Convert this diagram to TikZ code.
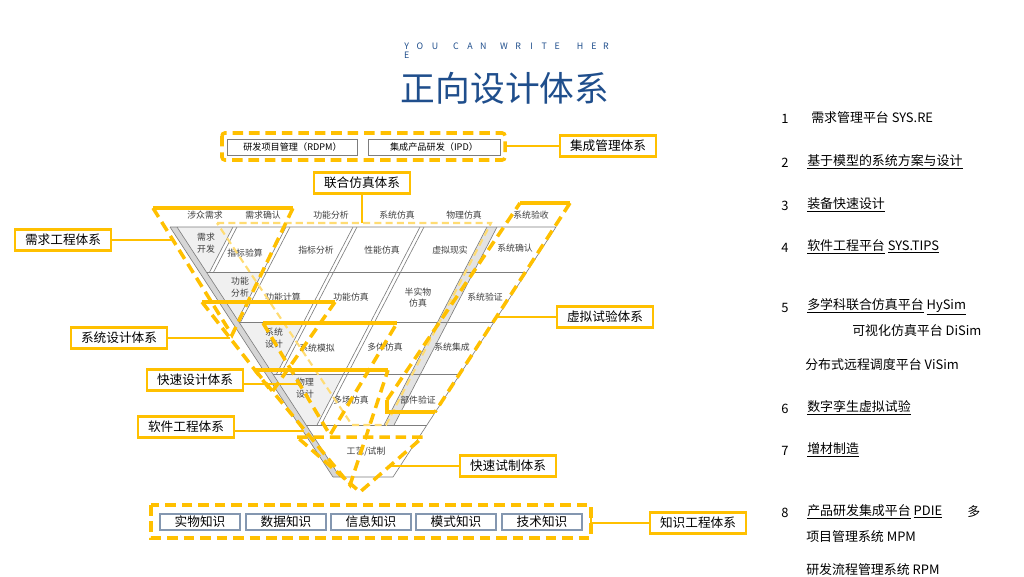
\documentclass[tikz,border=0pt]{standalone}
\usepackage{fontspec}
\setmainfont{Noto Sans CJK SC}
\definecolor{ylw}{RGB}{255,192,0}
\definecolor{ttl}{RGB}{31,78,140}
\definecolor{kbx}{RGB}{132,151,176}
\definecolor{vln}{RGB}{125,125,125}
\definecolor{vtx}{RGB}{64,64,64}

\begin{document}
\begin{tikzpicture}[x=0.25mm, y=-0.25mm,
    vline/.style={draw=vln, line width=0.45pt},
    vtxt/.style={font=\fontsize{6.3}{8.2}\selectfont, text=vtx, align=center, inner sep=0pt},
    ybar/.style={draw=ylw, line width=2.5pt},
    ydash/.style={draw=ylw, line width=2.5pt, dash pattern=on 7.5pt off 4.2pt},
    ylight/.style={draw=ylw!55, line width=1.5pt, dash pattern=on 5pt off 3pt},
    ylink/.style={draw=ylw, line width=1.6pt},
    lbl/.style={draw=ylw, line width=1.9pt, fill=white, minimum width=24mm, minimum height=5.2mm, inner sep=0pt, font=\fontsize{9}{10}\selectfont},
    gbox/.style={draw=vln, line width=0.6pt, fill=white, minimum height=4mm, inner sep=0pt, font=\fontsize{6.5}{8}\selectfont},
    kbox/.style={draw=kbx, line width=0.8pt, fill=white, minimum width=20mm, minimum height=4mm, inner sep=0pt, font=\fontsize{9}{10}\selectfont},
    listtxt/.style={anchor=west, inner sep=0pt, font=\fontsize{9.2}{11}\selectfont},
    ycw/.style={font=\fontsize{6.3}{7}\selectfont, text=ttl, inner sep=0pt}]
    \useasboundingbox (0,0) rectangle (1024,576);
    \fill[white] (0,0) rectangle (1024,576);

    \foreach \ch/\xx [count=\i] in {Y/406.7,O/420,U/435,C/456,A/470,N/483.3,W/504,R/518.3,I/531.7,T/544.3,E/557.3,H/580,E/594,R/606}
        \node[ycw] (you\i) at (\xx,46) {\ch};
    \node[ycw] (you15) at (406.7,55) {E};
    \node[font=\fontsize{24.7}{28}\selectfont, text=ttl, inner sep=0pt] (title) at (505,88) {正向设计体系};

    \fill[gray!32] (170,227) -- (177,227) -- (340,477) -- (333,477) -- cycle;
    \begin{scope}
        \clip (177,227) -- (556,227) -- (393,477) -- (340,477) -- cycle;
        \fill[gray!12] (177,227) -- (233,227) -- (209.6,272) -- (206.3,272) -- cycle;
        \fill[gray!12] (206.3,272) -- (262.6,272) -- (237.6,320) -- cycle;
        \fill[gray!12] (238.9,322) -- (303.6,322) -- (276.6,374) -- (272.8,374) -- cycle;
        \fill[gray!12] (272.8,374) -- (343.6,374) -- (317,425) -- (306.1,425) -- cycle;
        \fill[gray!22] (487,227) -- (497,227) -- (394,425) -- (384,425) -- cycle;
        \foreach \a/\b in {233/272,237/272,286/322,290/322,353/374,357/374,420/425,424/425,487/425,497/425}
            \draw[vline] (\a,227) -- ({\a-0.52*(\b-227)},\b);
        \foreach \yy in {272,322,374,425}
            \draw[vline] (150,\yy) -- (600,\yy);
    \end{scope}
    \draw[vline] (170,227) -- (333,477);
    \draw[vline] (177,227) -- (340,477);
    \draw[vline] (170,227) -- (556,227) -- (393,477) -- (333,477);

    \foreach \t/\xx [count=\i] in {涉众需求/205,需求确认/263,功能分析/331,系统仿真/397,物理仿真/464,系统验收/531}
        \node[vtxt] (h\i) at (\xx,215) {\t};
    \foreach \t/\xx/\yy [count=\i] in {{需求\\开发}/206/243,指标验算/245/253,指标分析/316/250,性能仿真/382/250,虚拟现实/450/250,系统确认/515/248,
        {功能\\分析}/240/287,功能计算/283/297,功能仿真/351/297,{半实物\\仿真}/418/297.5,系统验证/485/297,
        {系统\\设计}/274/338,系统模拟/317/348,多体仿真/385/347,系统集成/452/347,
        {物理\\设计}/305/388,多场仿真/351/400,部件验证/418/400}
        \node[vtxt] (c\i) at (\xx,\yy) {\t};
    \node[vtxt] (gy) at (366,452) {工艺/试制};

    \draw[ydash, rounded corners=2pt] (222,133) rectangle (505,160);
    \node[gbox, minimum width=32.7mm] (rdpm) at (292.5,147) {研发项目管理（RDPM）};
    \node[gbox, minimum width=33mm] (ipd) at (434,147) {集成产品研发（IPD）};

    \draw[ylight] (217,223) -- (491,223) -- (386,425) -- (352,425) -- cycle;
    \draw[ybar] (153,208) -- (293,208);
    \draw[ydash] (153,208) -- (232,335) -- (293,208);
    \draw[ybar] (202,302) -- (335,302);
    \draw[ydash] (202,302) -- (272,392) -- (335,302);
    \draw[ybar] (263,323) -- (397,323);
    \draw[ydash] (263,323) -- (330,435) -- (397,323);
    \draw[ybar] (255,370) -- (388,370);
    \draw[ydash] (255,370) -- (350,485) -- (388,370);
    \draw[ydash] (297,437) -- (423,437) -- (360,492) -- cycle;
    \draw[ybar] (520,203) -- (570,203);
    \draw[ydash] (570,203) -- (435,412);
    \draw[ybar] (435,412) -- (387,412) -- (387,400);
    \draw[ydash] (387,400) -- (520,203);

    \draw[ydash] (151,505) rectangle (591,538);
    \foreach \t/\xx [count=\i] in {实物知识/200,数据知识/286,信息知识/371,模式知识/456,技术知识/542}
        \node[kbox] (k\i) at (\xx,522) {\t};

    \node[lbl] (jc) at (608,146) {集成管理体系};
    \node[lbl] (lh) at (362,183) {联合仿真体系};
    \node[lbl] (xq) at (63,240) {需求工程体系};
    \node[lbl] (xt) at (119,338) {系统设计体系};
    \node[lbl] (ks) at (195,380) {快速设计体系};
    \node[lbl] (rj) at (186,427) {软件工程体系};
    \node[lbl] (xn) at (605,317) {虚拟试验体系};
    \node[lbl] (sz) at (508,466) {快速试制体系};
    \node[lbl] (zs) at (698,523) {知识工程体系};

    \coordinate (jcE) at (505,146);
    \coordinate (lhE) at (362,223);
    \coordinate (xqE) at (173,240);
    \coordinate (xtE) at (230,338);
    \coordinate (ksE) at (299,384);
    \coordinate (rjE) at (304,431);
    \coordinate (xnE) at (496,317);
    \coordinate (szE) at (390,466);
    \coordinate (zsE) at (591,523);
    \draw[ylink] (jcE) -- (jc.west);
    \draw[ylink] (lh.south) -- (lhE);
    \draw[ylink] (xq.east) -- (xqE);
    \draw[ylink] (xt.east) -- (xtE);
    \draw[ylink] (ks.east |- ksE) -- (ksE);
    \draw[ylink] (rj.east |- rjE) -- (rjE);
    \draw[ylink] (xnE) -- (xn.west);
    \draw[ylink] (szE) -- (sz.west);
    \draw[ylink] (zsE) -- (zs.west);
    \draw[ylink] (591,515) -- (591,530);

    \foreach \n/\yy in {1/119,2/163,3/206,4/248,5/308,6/409,7/451,8/513}
        \node[listtxt] (n\n) at (781,\yy) {\n};
    \node[listtxt] (t1) at (811,118) {需求管理平台 SYS.RE};
    \node[listtxt] (t2) at (807,162) {\underline{基于模型的系统方案与设计}};
    \node[listtxt] (t3) at (807,205) {\underline{装备快速设计}};
    \node[listtxt] (t4) at (807,247) {\underline{软件工程平台} \underline{SYS.TIPS}};
    \node[listtxt] (t5) at (807,307) {\underline{多学科联合仿真平台} \underline{HySim}};
    \node[listtxt] (t5b) at (852,331) {可视化仿真平台 DiSim};
    \node[listtxt] (t5c) at (805,365) {分布式远程调度平台 ViSim};
    \node[listtxt] (t6) at (807,408) {\underline{数字孪生虚拟试验}};
    \node[listtxt] (t7) at (807,450) {\underline{增材制造}};
    \node[listtxt] (t8) at (807,512) {\underline{产品研发集成平台} \underline{PDIE}};
    \node[listtxt] (t8m) at (967,512) {多};
    \node[listtxt] (t8b) at (806,537) {项目管理系统 MPM};
    \node[listtxt] (t8c) at (806,570) {研发流程管理系统 RPM};
\end{tikzpicture}
\end{document}
